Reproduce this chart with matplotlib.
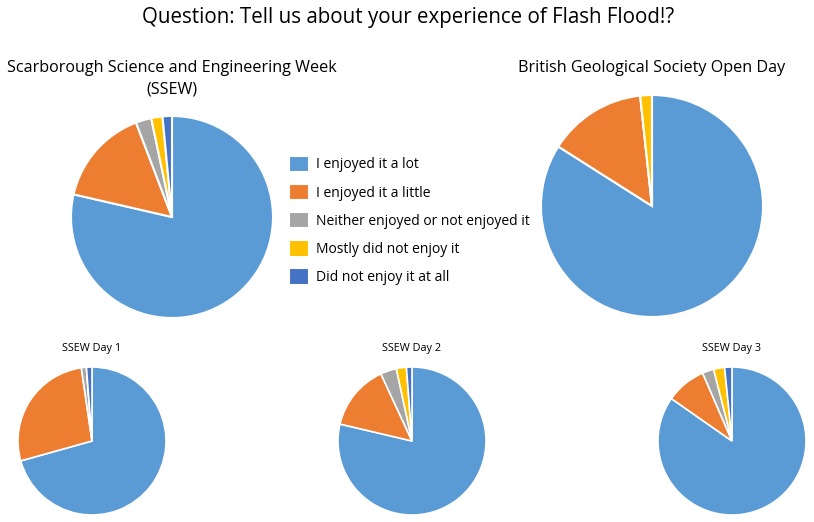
"""Recreate the Flash Flood feedback pie charts."""

import matplotlib.pyplot as plt

W, H = 814, 522

categories = [
    "I enjoyed it a lot",
    "I enjoyed it a little",
    "Neither enjoyed or not enjoyed it",
    "Mostly did not enjoy it",
    "Did not enjoy it at all",
]
colors = ["#5B9BD5", "#ED7D31", "#A5A5A5", "#FFC000", "#4472C4"]

# percentages
ssew = [78.6, 15.6, 2.5, 1.8, 1.5]
bgs = [84.0, 14.3, 0.0, 1.7, 0.0]
day1 = [70.6, 27.0, 1.1, 0.0, 1.2]
day2 = [78.6, 14.4, 3.5, 2.2, 1.2]
day3 = [84.8, 8.8, 2.5, 2.4, 1.6]

plt.rcParams["font.family"] = ["Open Sans", "DejaVu Sans"]

fig = plt.figure(figsize=(W / 100, H / 100), dpi=100)


def pie_axes(cx, cy, r):
    """Axes whose data square [-1, 1] maps to a circle of radius r px."""
    return fig.add_axes([(cx - r) / W, 1 - (cy + r) / H, 2 * r / W, 2 * r / H])


def draw_pie(cx, cy, r, values, lw=1.5):
    ax = pie_axes(cx, cy, r)
    wedges, _ = ax.pie(
        values, colors=colors, startangle=90, counterclock=False,
        radius=1.0, wedgeprops=dict(edgecolor="white", linewidth=lw,
                                    clip_on=False),
    )
    ax.set_xlim(-1, 1)
    ax.set_ylim(-1, 1)
    ax.set_aspect("equal")
    ax.axis("off")
    return wedges


def label(x, y, s, size):
    fig.text(x / W, 1 - y / H, s, ha="center", va="center", fontsize=size,
             color="#000000")


label(408, 18, "Question: Tell us about your experience of Flash Flood!?", 14.8)

wedges = draw_pie(172, 217, 101, ssew)
label(172, 68, "Scarborough Science and Engineering Week", 11.6)
label(172, 90, "(SSEW)", 11.6)

draw_pie(652, 206, 111, bgs)
label(652, 68, "British Geological Society Open Day", 11.6)

for cx, vals, name in [(92, day1, "SSEW Day 1"), (412, day2, "SSEW Day 2"),
                       (732, day3, "SSEW Day 3")]:
    draw_pie(cx, 441, 74, vals, lw=1.2)
    label(cx, 349, name, 7.8)

fig.legend(
    wedges, categories, loc="upper left",
    bbox_to_anchor=(276 / W, 1 - 143 / H), frameon=False,
    fontsize=10.0, handlelength=1.45, handleheight=1.45,
    labelspacing=0.82, handletextpad=0.55,
)

fig.savefig("out.png", dpi=100)
